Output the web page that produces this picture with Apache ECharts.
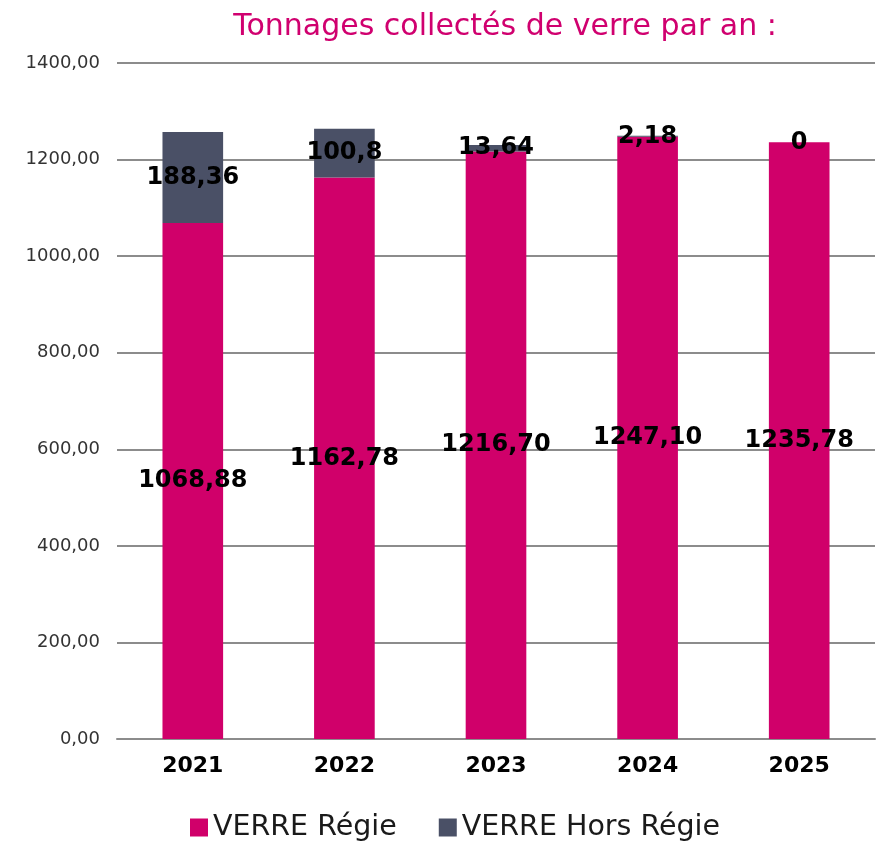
<!DOCTYPE html>
<html lang="fr">
<head>
<meta charset="utf-8">
<title>Tonnages collectés de verre par an</title>
<script src="https://cdn.jsdelivr.net/npm/echarts@6/dist/echarts.min.js"></script>
<style>
html, body { margin: 0; padding: 0; background: #fff; }
#main { width: 876px; height: 844px; }
</style>
</head>
<body>
<div id="main"></div>
<script>
var years = ['2021', '2022', '2023', '2024', '2025'];
var regie = [1068.88, 1162.78, 1216.70, 1247.10, 1235.78];
var horsRegie = [188.36, 100.8, 13.64, 2.18, 0];
var yTicks = [0, 200, 400, 600, 800, 1000, 1200, 1400];

var fontFam = '"DejaVu Sans", sans-serif';

function frNum(v, dec) {
  var s = dec == null ? String(v) : v.toFixed(dec);
  return s.replace('.', ',');
}

var chart = echarts.init(document.getElementById('main'));
chart.setOption({
  animation: false,
  title: {
    text: 'Tonnages collectés de verre par an :',
    left: 500,
    top: 7,
    textAlign: 'center',
    textStyle: { color: '#d0006f', fontSize: 30, fontWeight: 'normal', fontFamily: fontFam }
  },
  legend: {
    bottom: -3,
    left: 185,
    itemWidth: 18,
    itemHeight: 18,
    itemGap: 42,
    icon: 'rect',
    textStyle: { fontSize: 28.5, color: '#1a1a1a', fontFamily: fontFam }
  },
  grid: { left: 117, right: 1, top: 63, bottom: 105, containLabel: false },
  xAxis: {
    type: 'category',
    data: years,
    axisTick: { show: false },
    axisLine: { lineStyle: { color: '#8c8c8c', width: 2 } },
    axisLabel: { fontSize: 22, fontWeight: 'bold', color: '#000', margin: 16, fontFamily: fontFam }
  },
  yAxis: {
    type: 'value',
    min: yTicks[0],
    max: yTicks[yTicks.length - 1],
    interval: 200,
    axisLine: { show: false },
    axisTick: { show: false },
    splitLine: { lineStyle: { color: '#8c8c8c', width: 2 } },
    axisLabel: {
      fontSize: 18, color: '#333', margin: 17, fontFamily: fontFam,
      formatter: function (v) { return frNum(v, 2); }
    }
  },
  series: [
    {
      name: 'VERRE Régie',
      type: 'bar',
      stack: 'total',
      barWidth: '40%',
      data: regie,
      itemStyle: { color: '#d0006a' },
      label: {
        show: true, position: 'inside', color: '#000', fontSize: 24, fontWeight: 'bold', fontFamily: fontFam,
        formatter: function (p) { return frNum(p.value, 2); }
      }
    },
    {
      name: 'VERRE Hors Régie',
      type: 'bar',
      stack: 'total',
      barWidth: '40%',
      data: horsRegie,
      itemStyle: { color: '#4a5066' },
      label: {
        show: true, position: 'inside', color: '#000', fontSize: 24, fontWeight: 'bold', fontFamily: fontFam,
        formatter: function (p) { return frNum(p.value); }
      }
    }
  ]
});
</script>
</body>
</html>
